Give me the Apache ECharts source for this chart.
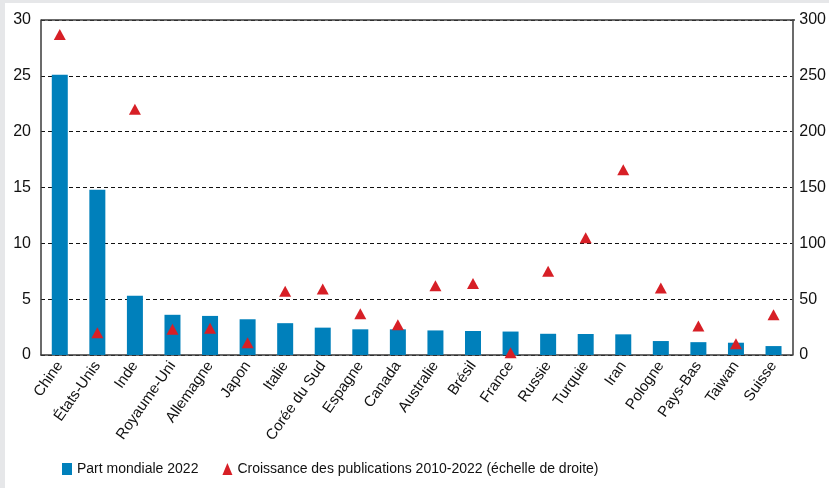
<!DOCTYPE html>
<html>
<head>
<meta charset="utf-8">
<script src="https://cdn.jsdelivr.net/npm/echarts@6/dist/echarts.min.js"></script>
<style>
  html, body { margin: 0; padding: 0; background: #e6e7e9; }
  #chart { position: absolute; left: 5px; top: 3px; width: 824px; height: 485px; background: #fff; }
</style>
</head>
<body>
<div id="chart"></div>
<script>
// Country categories
const countries = ['Chine', 'États-Unis', 'Inde', 'Royaume-Uni', 'Allemagne', 'Japon', 'Italie',
  'Corée du Sud', 'Espagne', 'Canada', 'Australie', 'Brésil', 'France', 'Russie', 'Turquie',
  'Iran', 'Pologne', 'Pays-Bas', 'Taiwan', 'Suisse'];
// World share 2022 (%), left axis
const partMondiale = [25.1, 14.8, 5.3, 3.6, 3.5, 3.2, 2.85, 2.45, 2.3, 2.3, 2.2, 2.15, 2.1,
  1.9, 1.88, 1.85, 1.25, 1.15, 1.1, 0.8];
// Publication growth 2010-2022 (%), right axis
const croissance = [287, 20, 220, 23, 24, 11, 57, 59, 37, 27, 62, 64, 2, 75, 105, 166, 60, 26, 10, 36];

const leftTicks = [0, 30, 5];
const rightTicks = [0, 300, 50];

const BLUE = '#0080bb';
const RED = '#d71f26';
const FONT = 'Liberation Sans';

const chart = echarts.init(document.getElementById('chart'), null, { renderer: 'canvas' });
chart.setOption({
  animation: false,
  textStyle: { fontFamily: FONT },
  grid: { left: 36, right: 34, top: 17, bottom: 133 },
  legend: {
    left: 52, bottom: 7,
    itemGap: 24,
    itemWidth: 10, itemHeight: 12,
    textStyle: { fontFamily: FONT, fontSize: 14, color: '#111' },
    data: [
      { name: 'Part mondiale 2022', icon: 'rect' },
      { name: 'Croissance des publications 2010-2022 (échelle de droite)', icon: 'triangle' }
    ]
  },
  xAxis: {
    type: 'category',
    data: countries,
    axisLine: { lineStyle: { color: '#3a3a3a', width: 1.5 } },
    axisTick: { show: false },
    axisLabel: { rotate: 55, fontSize: 15, color: '#111', margin: 8, interval: 0 }
  },
  yAxis: [
    {
      type: 'value', min: leftTicks[0], max: leftTicks[1], interval: leftTicks[2],
      position: 'left',
      axisLine: { show: true, lineStyle: { color: '#3a3a3a', width: 1.5 } },
      axisTick: { show: false },
      axisLabel: { fontSize: 16, color: '#111', margin: 10 },
      splitLine: { lineStyle: { color: '#111', type: [4, 3], width: 1 } }
    },
    {
      type: 'value', min: rightTicks[0], max: rightTicks[1], interval: rightTicks[2],
      position: 'right',
      axisLine: { show: true, lineStyle: { color: '#3a3a3a', width: 1.5 } },
      axisTick: { show: false },
      axisLabel: { fontSize: 16, color: '#111', margin: 7 },
      splitLine: { show: false }
    }
  ],
  series: [
    {
      name: 'Part mondiale 2022',
      type: 'bar',
      data: partMondiale,
      barWidth: 16,
      itemStyle: { color: BLUE },
      z: 2
    },
    {
      name: 'Croissance des publications 2010-2022 (échelle de droite)',
      type: 'scatter',
      yAxisIndex: 1,
      data: croissance,
      symbol: 'triangle',
      symbolSize: [12, 11],
      itemStyle: { color: RED, opacity: 1 },
      z: 3
    }
  ]
});
// top frame line
chart.setOption({
  graphic: [{
    type: 'line',
    shape: { x1: 36, y1: 17, x2: 824 - 34, y2: 17 },
    style: { stroke: '#3a3a3a', lineWidth: 1.5 }
  }]
});
</script>
</body>
</html>
